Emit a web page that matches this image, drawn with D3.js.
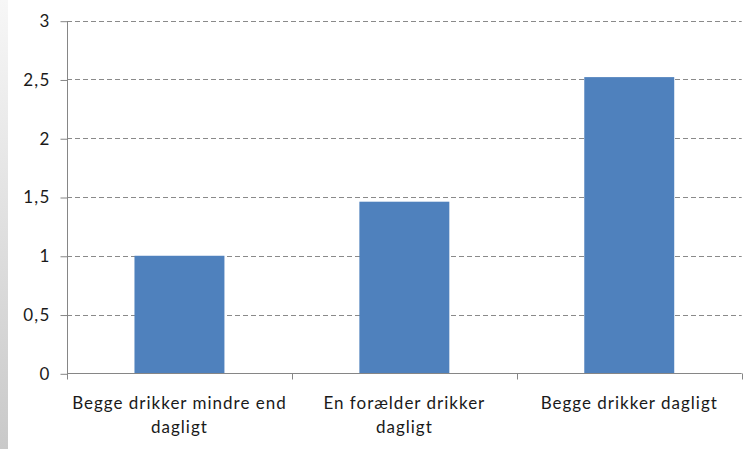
<!DOCTYPE html>
<html>
<head>
<meta charset="utf-8">
<script src="https://cdn.jsdelivr.net/npm/d3@7"></script>
<style>
  html, body { margin: 0; padding: 0; background: #fff; }
  svg { display: block; }
  text { font-family: Lato, "Open Sans", sans-serif; fill: #1a1a1a; }
</style>
</head>
<body>
<svg id="chart" width="753" height="449"></svg>
<script>
const categories = [["Begge drikker mindre end", "dagligt"], ["En forælder drikker", "dagligt"], ["Begge drikker dagligt"]];
const values = [1.0, 1.46, 2.52];
const yTicks = [0, 0.5, 1, 1.5, 2, 2.5, 3];
const yTickLabels = ["0", "0,5", "1", "1,5", "2", "2,5", "3"];

const W = 753, H = 449;
const m = { left: 67, right: 11.3, top: 20.7, bottom: 75.7 };
const svg = d3.select("#chart");

const defs = svg.append("defs");
const grad = defs.append("linearGradient").attr("id", "edge").attr("x1", 0).attr("y1", 0).attr("x2", 0).attr("y2", 1);
grad.append("stop").attr("offset", "0%").attr("stop-color", "#f7f7f7");
grad.append("stop").attr("offset", "100%").attr("stop-color", "#c9c9c9");
svg.append("rect").attr("x", 0).attr("y", 0).attr("width", 8).attr("height", H).attr("fill", "url(#edge)");

const x = d3.scaleBand().domain(d3.range(categories.length))
  .range([m.left, W - m.right]).paddingInner(0.6).paddingOuter(0.3);
const y = d3.scaleLinear().domain([0, 3]).range([H - m.bottom, m.top]);

// gridlines
svg.append("g").selectAll("line").data(yTicks.filter(d => d > 0)).join("line")
  .attr("x1", m.left).attr("x2", W - m.right)
  .attr("y1", d => Math.round(y(d)) + 0.5).attr("y2", d => Math.round(y(d)) + 0.5)
  .attr("stroke", "#8a8a8a").attr("stroke-width", 1).attr("stroke-dasharray", "5,3");

// bars
svg.append("g").selectAll("rect").data(values).join("rect")
  .attr("x", (d, i) => x(i)).attr("width", x.bandwidth())
  .attr("y", d => y(d)).attr("height", d => y(0) - y(d))
  .attr("fill", "#4F81BD");

// y axis
const yAxis = d3.axisLeft(y).tickValues(yTicks).tickFormat((d, i) => yTickLabels[i]).tickSize(7).tickPadding(10);
const gy = svg.append("g").attr("transform", `translate(${m.left + 0.5},0.5)`).call(yAxis);
gy.selectAll("path, line").attr("stroke", "#868686");
gy.select(".domain").attr("d", `M0,${Math.round(y(3))}V${Math.round(y(0))}`);
gy.selectAll("text").attr("font-size", 17).attr("letter-spacing", 1.2)
  .attr("font-family", "Lato, sans-serif").attr("fill", "#1a1a1a");

// x axis
const x0 = Math.round(y(0)) + 0.5;
const gx = svg.append("g");
gx.append("line").attr("x1", m.left).attr("x2", W - m.right).attr("y1", x0).attr("y2", x0).attr("stroke", "#868686");
const bounds = d3.range(categories.length + 1).map(i => m.left + i * (W - m.left - m.right) / categories.length);
gx.selectAll("line.t").data(bounds).join("line").attr("class", "t")
  .attr("x1", d => Math.round(d) + 0.5).attr("x2", d => Math.round(d) + 0.5)
  .attr("y1", x0).attr("y2", x0 + 6).attr("stroke", "#868686");

const labels = gx.selectAll("text").data(categories).join("text")
  .attr("x", (d, i) => x(i) + x.bandwidth() / 2)
  .attr("y", 409).attr("text-anchor", "middle").attr("font-size", 17).attr("letter-spacing", 1);
labels.selectAll("tspan").data(d => d).join("tspan")
  .attr("x", function() { return d3.select(this.parentNode).attr("x"); })
  .attr("dy", (d, i) => i === 0 ? 0 : 24)
  .text(d => d);
</script>
</body>
</html>
